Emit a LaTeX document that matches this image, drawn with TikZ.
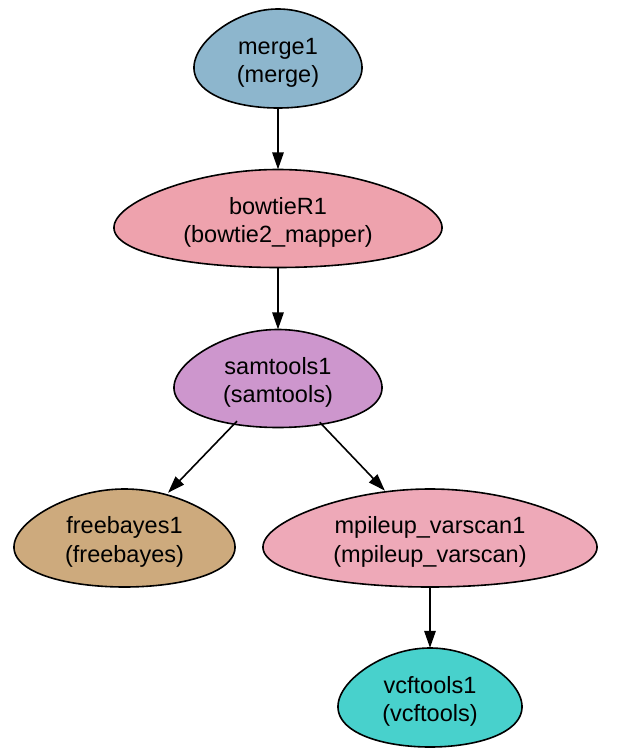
\documentclass[tikz,border=0pt]{standalone}
\usepackage{fontspec}
\setmainfont{Liberation Sans}
\usetikzlibrary{arrows.meta,shapes.geometric,backgrounds}
\definecolor{cmerge}{HTML}{8DB6CD}
\definecolor{cbowtie}{HTML}{EEA2AD}
\definecolor{csam}{HTML}{CD96CD}
\definecolor{cfree}{HTML}{CDAA7D}
\definecolor{cmpile}{HTML}{EEA9B8}
\definecolor{cvcf}{HTML}{48D1CC}
% invisible strut that lowers the two-line label a little inside its node
\newcommand\topstrut{\rule{0pt}{25pt}}
% egg outline around a named node: #1 node, #2 half width, #3 half height, #4 fill
\newcommand\drawegg[4]{%
  \begin{scope}[shift={(#1.center)}]
    \filldraw[eggline, fill=#4] plot[domain=0:360, samples=181]
      ({#2/1.019*cos(\x)*(1+0.2*sin(\x))},{#3*sin(\x)}) -- cycle;
  \end{scope}}
\begin{document}
\begin{tikzpicture}[x=1pt,y=-1pt,
  eggnode/.style n args={2}{ellipse, inner sep=0pt, minimum width=#1pt,
    minimum height=#2pt, align=center, text=black,
    font=\fontsize{23.5pt}{28.2pt}\selectfont},
  edge/.style={line width=1.6pt, -{Triangle[length=17pt,width=11.5pt]}},
  eggline/.style={line width=1.6pt, draw=black}]
\useasboundingbox (0,0) rectangle (618,753);

\node[eggnode={168}{99}] (merge) at (278,58.5) {\topstrut merge1\\(merge)};
\node[eggnode={328}{98}] (bowtie) at (278,218.5) {\topstrut bowtieR1\\(bowtie2\_mapper)};
\node[eggnode={208}{98}] (sam) at (278,378.5) {\topstrut samtools1\\(samtools)};
\node[eggnode={221}{98}] (free) at (124.5,538) {\topstrut freebayes1\\(freebayes)};
\node[eggnode={334}{98}] (mpile) at (430,538) {\topstrut mpileup\_varscan1\\(mpileup\_varscan)};
\node[eggnode={184}{99}] (vcf) at (430,697.5) {\topstrut vcftools1\\(vcftools)};

\begin{scope}[on background layer]
  \fill[white] (0,0) rectangle (618,753);
  \drawegg{merge}{84}{49.5}{cmerge}
  \drawegg{bowtie}{164}{49}{cbowtie}
  \drawegg{sam}{104}{49}{csam}
  \drawegg{free}{110.5}{49}{cfree}
  \drawegg{mpile}{167}{49}{cmpile}
  \drawegg{vcf}{92}{49.5}{cvcf}
\end{scope}

\draw[edge] (merge) -- (bowtie);
\draw[edge] (bowtie) -- (sam);
\draw[edge, shorten <=-3pt] (sam) -- (free);
\draw[edge, shorten <=-1.5pt] (sam) -- (mpile);
\draw[edge] (mpile) -- (vcf);
\end{tikzpicture}
\end{document}
